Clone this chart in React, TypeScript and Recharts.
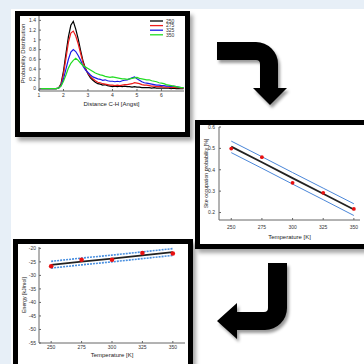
import React from 'react';
import { LineChart, ComposedChart, Line, Scatter, XAxis, YAxis, Legend } from 'recharts';

// ---------- Panel 1: probability distribution ----------
const DIST_X = [1.0, 1.1, 1.2, 1.3, 1.4, 1.5, 1.6, 1.7, 1.8, 1.9, 2.0, 2.1, 2.2, 2.3, 2.4, 2.5, 2.6, 2.7, 2.8, 2.9,
  3.0, 3.1, 3.2, 3.3, 3.4, 3.5, 3.6, 3.7, 3.8, 3.9, 4.0, 4.1, 4.2, 4.3, 4.4, 4.5, 4.6, 4.7, 4.8, 4.9,
  5.0, 5.1, 5.2, 5.3, 5.4, 5.5, 5.6, 5.7, 5.8, 5.9, 6.0, 6.1, 6.2, 6.3, 6.4, 6.5, 6.6, 6.7, 6.8, 6.9];
const P250 = [0, 0, 0, 0, 0, 0, 0, 0, 0.01, 0.1, 0.36, 0.72, 1.06, 1.3, 1.38, 1.22, 1.02, 0.78, 0.56, 0.41,
  0.3, 0.22, 0.17, 0.13, 0.1, 0.09, 0.07, 0.08, 0.06, 0.05, 0.04, 0.05, 0.04, 0.05, 0.04, 0.05, 0.04, 0.04, 0.03, 0.04,
  0.03, 0.03, 0.02, 0.02, 0.02, 0.02, 0.01, 0.02, 0.01, 0.01, 0.01, 0.01, 0.01, 0.01, 0.0, 0.01, 0.0, 0.0, 0.0, 0.0];
const P275 = [0, 0, 0, 0, 0, 0, 0, 0, 0.01, 0.08, 0.3, 0.62, 0.95, 1.14, 1.18, 1.08, 0.92, 0.72, 0.53, 0.4,
  0.31, 0.25, 0.2, 0.16, 0.13, 0.12, 0.1, 0.09, 0.08, 0.07, 0.07, 0.06, 0.07, 0.06, 0.07, 0.08, 0.08, 0.09, 0.1, 0.12,
  0.11, 0.1, 0.08, 0.07, 0.07, 0.06, 0.05, 0.05, 0.04, 0.04, 0.04, 0.03, 0.03, 0.03, 0.02, 0.03, 0.02, 0.02, 0.01, 0.01];
const P325 = [0, 0, 0, 0, 0, 0, 0, 0, 0.01, 0.06, 0.2, 0.4, 0.6, 0.75, 0.8, 0.76, 0.68, 0.58, 0.46, 0.38,
  0.33, 0.28, 0.24, 0.22, 0.2, 0.19, 0.17, 0.18, 0.16, 0.15, 0.15, 0.14, 0.15, 0.14, 0.16, 0.17, 0.18, 0.2, 0.22, 0.24,
  0.2, 0.17, 0.14, 0.12, 0.11, 0.1, 0.09, 0.08, 0.07, 0.07, 0.06, 0.06, 0.05, 0.05, 0.04, 0.05, 0.04, 0.03, 0.02, 0.02];
const P350 = [0, 0, 0, 0, 0, 0, 0, 0, 0.01, 0.05, 0.15, 0.28, 0.42, 0.52, 0.58, 0.62, 0.58, 0.52, 0.47, 0.44,
  0.41, 0.38, 0.35, 0.32, 0.3, 0.28, 0.27, 0.25, 0.24, 0.23, 0.24, 0.23, 0.22, 0.21, 0.2, 0.2, 0.19, 0.2, 0.21, 0.22,
  0.23, 0.21, 0.2, 0.19, 0.18, 0.18, 0.16, 0.15, 0.14, 0.12, 0.11, 0.1, 0.08, 0.07, 0.06, 0.05, 0.04, 0.03, 0.02, 0.02];
const SERIES_NAMES = ['250', '275', '325', '350'];
const SERIES_COLORS = ['#000000', '#ee1c1c', '#1a1ae6', '#22dd22'];
const DIST_XTICKS = [1, 2, 3, 4, 5, 6];
const DIST_YTICKS = [0, 0.2, 0.4, 0.6, 0.8, 1, 1.2, 1.4];

// ---------- Panel 2: site occupation ----------
const TEMPS = [250, 275, 300, 325, 350];
const OCC = [0.499, 0.459, 0.339, 0.292, 0.217];
const OCC_FIT = [0.508, 0.435, 0.361, 0.288, 0.214];
const OCC_UP = [0.534, 0.461, 0.387, 0.314, 0.241];
const OCC_LO = [0.48, 0.407, 0.333, 0.26, 0.186];
const OCC_YTICKS = [0.2, 0.3, 0.4, 0.5, 0.6];

// ---------- Panel 3: energy ----------
const ENERGY = [-26.6, -24.2, -24.2, -21.7, -21.9];
const EN_FIT = [-26.1, -24.9, -23.8, -22.6, -21.4];
const EN_UP = [-24.8, -23.6, -22.5, -21.3, -20.1];
const EN_LO = [-27.3, -26.1, -25.0, -23.8, -22.6];
const EN_YTICKS = [-55, -50, -45, -40, -35, -30, -25, -20];

const distData = DIST_X.map((x, i) => ({ x, s250: P250[i], s275: P275[i], s325: P325[i], s350: P350[i] }));
const occData = TEMPS.map((t, i) => ({ t, occ: OCC[i], fit: OCC_FIT[i], up: OCC_UP[i], lo: OCC_LO[i] }));
const enData = TEMPS.map((t, i) => ({ t, en: ENERGY[i], fit: EN_FIT[i], up: EN_UP[i], lo: EN_LO[i] }));

const FONT = '"Liberation Sans", Arial, sans-serif';
const tickStyle = { fontSize: 5, fill: '#333', fontFamily: FONT };
const labelStyle = { fontSize: 6, fill: '#222', fontFamily: FONT, textAnchor: 'middle' as const };
const BOX = '#666';

const abs = (extra: React.CSSProperties = {}): React.CSSProperties => ({ position: 'absolute', left: 0, top: 0, ...extra });

const frame = (left: number, top: number, width: number, height: number): React.CSSProperties => ({
  position: 'absolute', left, top, width, height, boxSizing: 'border-box', background: '#fff',
  border: '5px solid #000', boxShadow: '3px 4px 4px rgba(0,0,0,0.35)',
});

const RedDot = (props: any) => {
  const { cx, cy, r } = props;
  return <circle cx={cx} cy={cy} r={r} fill="#e81010" />;
};

const DistLegend = (props: any) => {
  const payload = props.payload || [];
  return (
    <svg width={34} height={22} style={{ display: 'block' }}>
      {payload.map((p: any, i: number) => (
        <g key={i}>
          <line x1={1} x2={14} y1={3 + i * 4.6} y2={3 + i * 4.6} stroke={p.color} strokeWidth={1.3} />
          <text x={17} y={3 + i * 4.6} dy={1.7} fontSize={5} fill="#333" fontFamily={FONT}>{p.value}</text>
        </g>
      ))}
    </svg>
  );
};

export default function App() {
  return (
    <div style={abs({ width: 364, height: 364, overflow: 'hidden', background: '#fff', fontFamily: FONT })}>
      {/* light blue bands */}
      <div style={abs({ width: 364, height: 9, background: '#e7eff7' })} />
      <div style={abs({ width: 11, height: 364, background: '#e7eff7' })} />

      {/* frames */}
      <div style={frame(15, 11, 175, 126)} />
      <div style={frame(195, 120, 180, 129)} />
      <div style={frame(13, 239, 180, 140)} />

      {/* Panel 1 */}
      <div style={abs()}>
        <LineChart width={364} height={364} data={distData} margin={{ top: 16, left: 19, right: 180, bottom: 236 }}>
          <XAxis dataKey="x" type="number" domain={[1, 6.92]} ticks={DIST_XTICKS} allowDataOverflow
            height={15} tick={tickStyle} tickSize={-2} tickMargin={4} stroke={BOX} interval={0}
            label={{ value: 'Distance C-H [Angst]', position: 'insideBottom', offset: 0, style: labelStyle }} />
          <XAxis xAxisId="top" orientation="top" dataKey="x" type="number" domain={[1, 6.92]} height={0}
            tick={false} tickLine={false} stroke={BOX} />
          <YAxis type="number" domain={[-0.05, 1.49]} ticks={DIST_YTICKS} allowDataOverflow width={20}
            tick={tickStyle} tickSize={-2} tickMargin={5} stroke={BOX} interval={0}
            label={{ value: 'Probability Distribution', angle: -90, position: 'insideLeft', offset: 4, style: labelStyle }} />
          <YAxis yAxisId="right" orientation="right" type="number" domain={[-0.05, 1.49]} width={0}
            tick={false} tickLine={false} stroke={BOX} />
          <Legend content={<DistLegend />} wrapperStyle={{ position: 'absolute', left: 149, top: 18, width: 34 }} />
          {['s250', 's275', 's325', 's350'].map((k, i) => (
            <Line key={k} dataKey={k} name={SERIES_NAMES[i]} stroke={SERIES_COLORS[i]} strokeWidth={1.2}
              dot={false} type="linear" isAnimationActive={false} />
          ))}
        </LineChart>
      </div>

      {/* Panel 2 */}
      <div style={abs()}>
        <ComposedChart width={364} height={364} data={occData} margin={{ top: 127, left: 199, right: 4, bottom: 125 }}>
          <XAxis dataKey="t" type="number" domain={[240, 355]} ticks={TEMPS} allowDataOverflow height={19}
            tick={tickStyle} tickSize={-2} tickMargin={7} stroke={BOX} interval={0}
            label={{ value: 'Temperature [K]', position: 'insideBottom', offset: 0, style: labelStyle }} />
          <XAxis xAxisId="top" orientation="top" dataKey="t" type="number" domain={[240, 355]} height={0}
            tick={false} tickLine={false} stroke={BOX} />
          <YAxis type="number" domain={[0.165, 0.6]} ticks={OCC_YTICKS} allowDataOverflow width={20}
            tick={tickStyle} tickSize={-2} tickMargin={6} stroke={BOX} interval={0}
            label={{ value: 'Site occupation probability [%]', angle: -90, position: 'insideLeft', offset: 7, style: { ...labelStyle, fontSize: 5.2 } }} />
          <YAxis yAxisId="right" orientation="right" type="number" domain={[0.165, 0.6]} width={0}
            tick={false} tickLine={false} stroke={BOX} />
          <Line dataKey="up" stroke="#4a86d8" strokeWidth={1} dot={false} type="linear" isAnimationActive={false} />
          <Line dataKey="lo" stroke="#4a86d8" strokeWidth={1} dot={false} type="linear" isAnimationActive={false} />
          <Line dataKey="fit" stroke="#222" strokeWidth={1.8} dot={false} type="linear" isAnimationActive={false} />
          <Scatter dataKey="occ" shape={(p: any) => <RedDot {...p} r={1.9} />} isAnimationActive={false} />
        </ComposedChart>
      </div>

      {/* Panel 3 */}
      <div style={abs()}>
        <ComposedChart width={364} height={364} data={enData} margin={{ top: 247, left: 19, right: 179, bottom: 7 }}>
          <XAxis dataKey="t" type="number" domain={[240, 360]} ticks={TEMPS} allowDataOverflow height={14}
            tick={tickStyle} tickSize={-2} tickMargin={4} stroke={BOX} interval={0}
            label={{ value: 'Temperature [K]', position: 'insideBottom', offset: 0, style: labelStyle }} />
          <XAxis xAxisId="top" orientation="top" dataKey="t" type="number" domain={[240, 360]} height={0}
            tick={false} tickLine={false} stroke={BOX} />
          <YAxis type="number" domain={[-55, -19.5]} ticks={EN_YTICKS} allowDataOverflow width={20}
            tick={tickStyle} tickSize={-2} tickMargin={5} stroke={BOX} interval={0}
            label={{ value: 'Energy [kJ/mol]', angle: -90, position: 'insideLeft', offset: 5, style: { ...labelStyle, fontSize: 5.2 } }} />
          <YAxis yAxisId="right" orientation="right" type="number" domain={[-55, -19.5]} width={0}
            tick={false} tickLine={false} stroke={BOX} />
          <Line dataKey="up" stroke="#4a90e0" strokeWidth={1.6} strokeDasharray="2 1" dot={false} type="linear" isAnimationActive={false} />
          <Line dataKey="lo" stroke="#4a90e0" strokeWidth={1.6} strokeDasharray="2 1" dot={false} type="linear" isAnimationActive={false} />
          <Line dataKey="fit" stroke="#222" strokeWidth={1.8} dot={false} type="linear" isAnimationActive={false} />
          <Scatter dataKey="en" shape={(p: any) => <RedDot {...p} r={2.3} />} isAnimationActive={false} />
        </ComposedChart>
      </div>

      {/* arrows */}
      <svg width={364} height={364} style={abs({ pointerEvents: 'none' })}>
        <defs>
          <filter id="sh" x="-20%" y="-20%" width="150%" height="150%">
            <feDropShadow dx="2" dy="3" stdDeviation="1.5" floodColor="#000" floodOpacity="0.4" />
          </filter>
        </defs>
        <path filter="url(#sh)" fill="#000"
          d="M217,42 L256,42 A22,22 0 0 1 278,64 L278,88 L287,88 L270,105 L253,88 L260,88 L260,64 A4,4 0 0 0 256,60 L217,60 Z" />
        <path filter="url(#sh)" fill="#000"
          d="M268,263 L287,263 L287,308 A22,22 0 0 1 265,330 L237,330 L237,339 L217,321 L237,303 L237,312 L264,312 A4,4 0 0 0 268,308 Z" />
      </svg>
    </div>
  );
}
